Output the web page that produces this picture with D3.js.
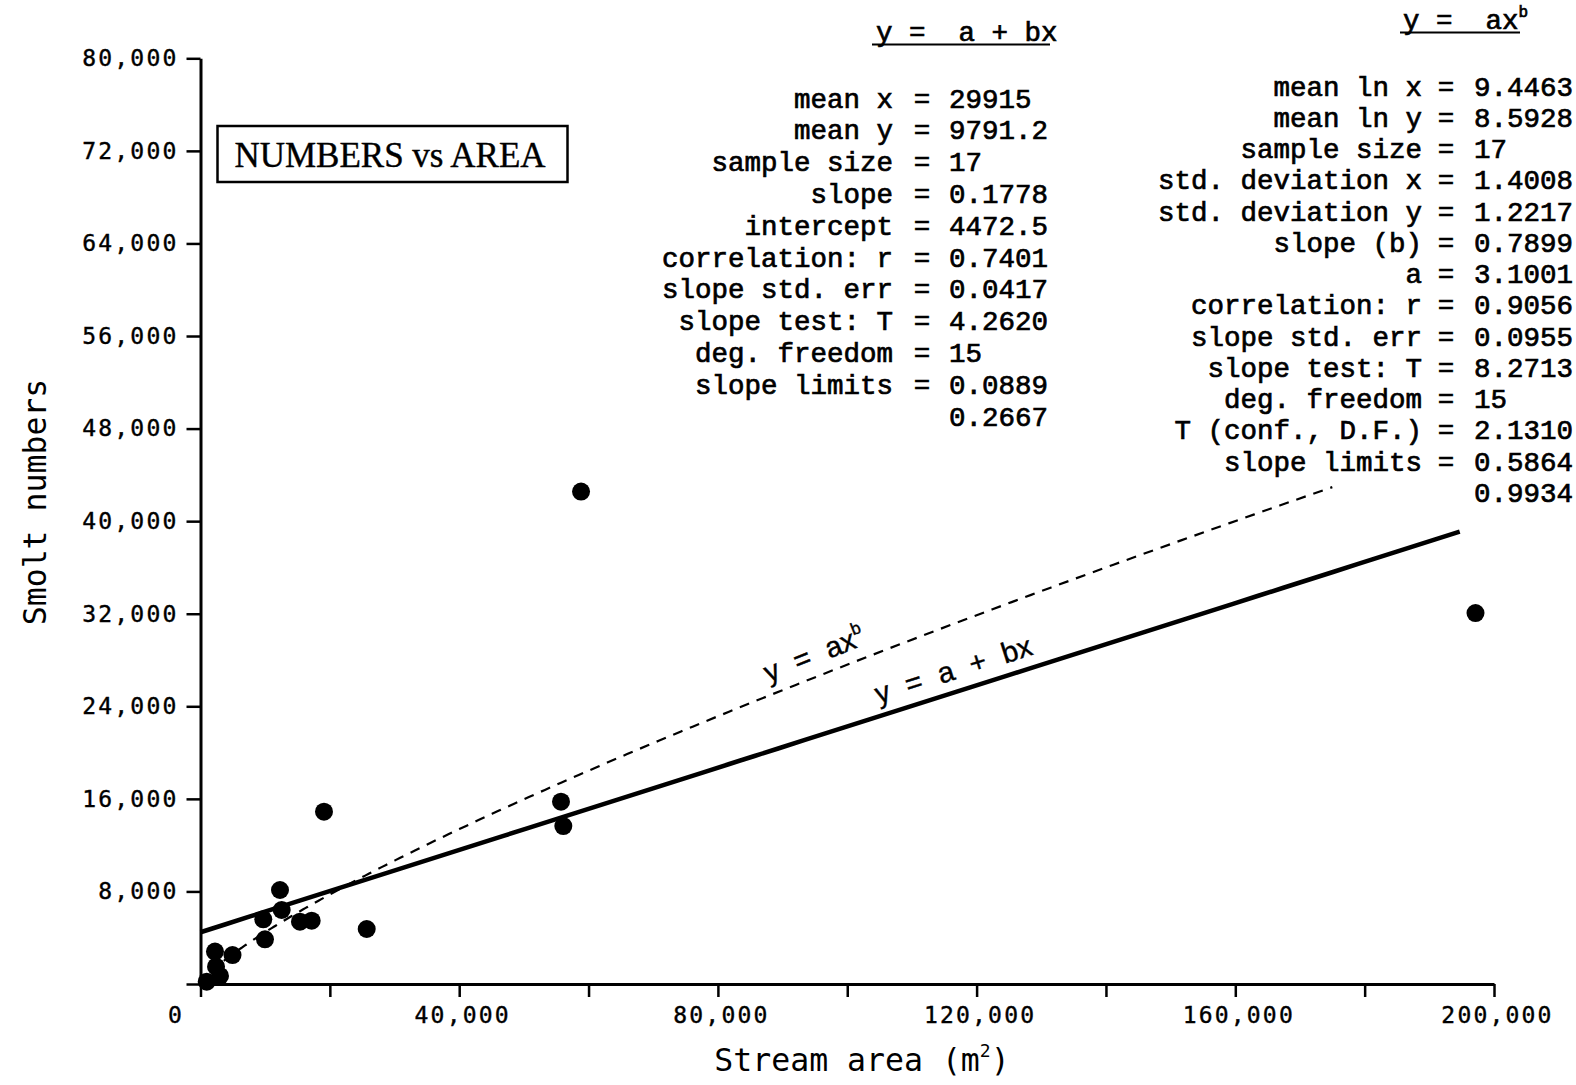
<!DOCTYPE html>
<html>
<head>
<meta charset="utf-8">
<script src="https://cdn.jsdelivr.net/npm/d3@7"></script>
<style>
  html, body { margin: 0; padding: 0; background: #fff; }
  svg { display: block; }
</style>
</head>
<body>
<svg id="chart" width="1576" height="1085"></svg>
<script>
// ---------- data ----------
const areaX   = [960, 2240, 2400, 3015, 4950, 9710, 9970, 12290, 12550, 15380, 17190, 19095, 25700, 55740, 56100, 58840, 197140];
const smoltsY = [200, 2800, 1500, 700, 2500, 5590, 3863, 8124, 6395, 5384, 5470, 14890, 4753, 15755, 13650, 42560, 32060];

const xTicks = [0, 20000, 40000, 60000, 80000, 100000, 120000, 140000, 160000, 180000, 200000];
const xTickLabels = ["0", "", "40,000", "", "80,000", "", "120,000", "", "160,000", "", "200,000"];
const yTicks = [0, 8000, 16000, 24000, 32000, 40000, 48000, 56000, 64000, 72000, 80000];
const yTickLabels = ["", "8,000", "16,000", "24,000", "32,000", "40,000", "48,000", "56,000", "64,000", "72,000", "80,000"];

// fitted models (from the printed statistics)
const linIntercept = 4472.5, linSlope = 0.1778;
const linRange = [0, 194700];
const powA = 3.1001, powB = 0.7899;
const powRange = [1500, 175000];

const linLabels = ["mean x", "mean y", "sample size", "slope", "intercept", "correlation: r",
  "slope std. err", "slope test: T", "deg. freedom", "slope limits", ""];
const linValues = ["29915", "9791.2", "17", "0.1778", "4472.5", "0.7401", "0.0417", "4.2620", "15", "0.0889", "0.2667"];

const powLabels = ["mean ln x", "mean ln y", "sample size", "std. deviation x", "std. deviation y", "slope (b)", "a",
  "correlation: r", "slope std. err", "slope test: T", "deg. freedom", "T (conf., D.F.)", "slope limits", ""];
const powValues = ["9.4463", "8.5928", "17", "1.4008", "1.2217", "0.7899", "3.1001", "0.9056", "0.0955", "8.2713",
  "15", "2.1310", "0.5864", "0.9934"];

// ---------- drawing ----------
const svg = d3.select("#chart");
svg.append("rect").attr("width", 1576).attr("height", 1085).attr("fill", "#fff");

const x = d3.scaleLinear().domain([0, 200000]).range([200.5, 1494]);
const y = d3.scaleLinear().domain([0, 80000]).range([984, 58.3]);

const tickFont = "'DejaVu Sans Mono', monospace";
const monoSerif = "'Liberation Mono', 'Courier New', monospace";

// y axis
const yAxis = d3.axisLeft(y).tickValues(yTicks).tickSize(14).tickSizeOuter(0).tickPadding(8)
  .tickFormat((d, i) => yTickLabels[i]);
const gy = svg.append("g").attr("transform", "translate(200.5,0)").call(yAxis);
gy.select(".domain").attr("stroke", "#000").attr("stroke-width", 3);
gy.selectAll(".tick line").attr("stroke", "#000").attr("stroke-width", 2.5);
gy.selectAll(".tick text").attr("font-family", tickFont).attr("font-size", 23)
  .attr("letter-spacing", 2.2).attr("fill", "#000").attr("stroke", "#000").attr("stroke-width", 0.4);

// x axis
const xAxis = d3.axisBottom(x).tickValues(xTicks).tickSize(13).tickSizeOuter(0).tickPadding(10)
  .tickFormat((d, i) => xTickLabels[i]);
const gx = svg.append("g").attr("transform", "translate(0,984)").call(xAxis);
gx.select(".domain").attr("stroke", "#000").attr("stroke-width", 3);
gx.selectAll(".tick line").attr("stroke", "#000").attr("stroke-width", 2.5);
gx.selectAll(".tick text").attr("font-family", tickFont).attr("font-size", 23)
  .attr("letter-spacing", 2.2).attr("fill", "#000").attr("stroke", "#000").attr("stroke-width", 0.4)
  .attr("dx", d => d === 0 ? -25 : 3);

// axis titles
svg.append("text")
  .attr("transform", "translate(46,502) rotate(-90)")
  .attr("text-anchor", "middle")
  .attr("font-family", tickFont).attr("font-size", 31.5)
  .attr("fill", "#000")
  .text("Smolt numbers");

const xt = svg.append("text")
  .attr("x", 862).attr("y", 1071)
  .attr("text-anchor", "middle")
  .attr("font-family", tickFont).attr("font-size", 31.5)
  .attr("fill", "#000");
xt.append("tspan").text("Stream area (m");
xt.append("tspan").attr("font-size", 18).attr("dy", -14).text("2");
xt.append("tspan").attr("dy", 14).text(")");

// regression lines
const linPts = d3.range(linRange[0], linRange[1] + 1, (linRange[1] - linRange[0]) / 50)
  .map(v => [v, linIntercept + linSlope * v]);
const powPts = d3.range(0, 201).map(i => {
  const v = powRange[0] * Math.pow(powRange[1] / powRange[0], i / 200);
  return [v, powA * Math.pow(v, powB)];
});
const line = d3.line().x(d => x(d[0])).y(d => y(d[1]));

svg.append("path").datum(powPts).attr("d", line)
  .attr("fill", "none").attr("stroke", "#000").attr("stroke-width", 2.2)
  .attr("stroke-dasharray", "10,8");
svg.append("path").datum(linPts).attr("d", line)
  .attr("fill", "none").attr("stroke", "#000").attr("stroke-width", 4.5);

// points
svg.append("g").selectAll("circle").data(areaX.map((v, i) => [v, smoltsY[i]]))
  .join("circle")
  .attr("cx", d => x(d[0])).attr("cy", d => y(d[1])).attr("r", 9).attr("fill", "#000");

// line labels
function lineLabel(xv, fy, parts) {
  const x1 = x(xv - 5000), x2 = x(xv + 5000);
  const y1 = y(fy(xv - 5000)), y2 = y(fy(xv + 5000));
  const ang = Math.atan2(y2 - y1, x2 - x1) * 180 / Math.PI;
  const t = svg.append("text")
    .attr("transform", `translate(${x(xv)},${y(fy(xv))}) rotate(${ang})`)
    .attr("text-anchor", "middle").attr("dy", -12)
    .attr("font-family", "'Liberation Sans', Arial, sans-serif").attr("font-size", 29)
    .attr("word-spacing", 9).attr("fill", "#000").attr("stroke", "#000").attr("stroke-width", 0.4);
  parts(t);
}
lineLabel(117430, v => linIntercept + linSlope * v, t => t.text("y = a + bx"));
lineLabel(96090, v => powA * Math.pow(v, powB), t => {
  t.append("tspan").text("y = ax");
  t.append("tspan").attr("font-size", 17).attr("dy", -13).text("b");
});

// title box
svg.append("rect").attr("x", 217.5).attr("y", 126).attr("width", 350).attr("height", 56)
  .attr("fill", "#fff").attr("stroke", "#000").attr("stroke-width", 2.5);
svg.append("text").attr("x", 390).attr("y", 166.5).attr("text-anchor", "middle")
  .attr("font-family", "'Liberation Serif', 'Times New Roman', serif").attr("font-size", 35)
  .attr("fill", "#000").attr("stroke", "#000").attr("stroke-width", 0.4).text("NUMBERS vs AREA");

// statistics blocks
function statBlock(hx, hy, headerParts, underline, labels, values, labelEnd, eqX, valX, y0, dy) {
  const h = svg.append("text").attr("x", hx).attr("y", hy)
    .attr("font-family", monoSerif).attr("font-size", 27.5).attr("fill", "#000")
    .attr("stroke", "#000").attr("stroke-width", 0.7).attr("xml:space", "preserve");
  headerParts(h);
  svg.append("line").attr("x1", underline[0]).attr("x2", underline[1])
    .attr("y1", hy + 3.5).attr("y2", hy + 3.5).attr("stroke", "#000").attr("stroke-width", 1.8);
  const g = svg.append("g").attr("font-family", monoSerif).attr("font-size", 27.5)
    .attr("fill", "#000").attr("stroke", "#000").attr("stroke-width", 0.7);
  labels.forEach((lab, i) => {
    const yy = y0 + i * dy;
    if (lab) {
      g.append("text").attr("x", labelEnd).attr("y", yy).attr("text-anchor", "end").text(lab);
      g.append("text").attr("x", eqX).attr("y", yy).attr("text-anchor", "middle").text("=");
    }
    g.append("text").attr("x", valX).attr("y", yy).text(values[i]);
  });
}
statBlock(876, 41, t => t.text("y =  a + bx"), [872, 1050],
  linLabels, linValues, 893, 922, 949, 107.5, 31.8);
statBlock(1403, 29, t => {
  t.append("tspan").text("y =  ax");
  t.append("tspan").attr("font-size", 16).attr("dy", -12).text("b");
}, [1400, 1520],
  powLabels, powValues, 1422, 1446, 1474, 95.6, 31.25);
</script>
</body>
</html>
